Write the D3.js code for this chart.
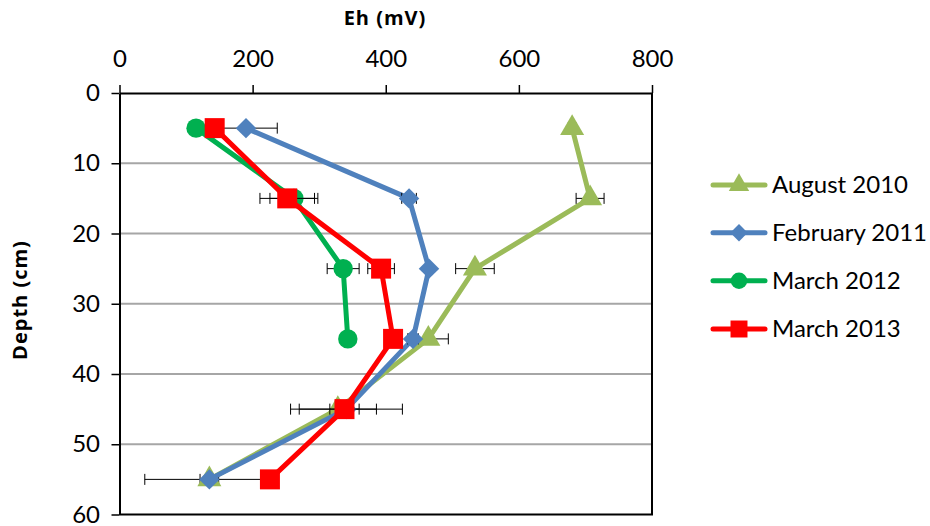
<!DOCTYPE html>
<html>
<head>
<meta charset="utf-8">
<script src="https://cdn.jsdelivr.net/npm/d3@7"></script>
<style>
  html, body { margin: 0; padding: 0; background: #fff; }
  svg { display: block; font-family: Lato, "Open Sans", sans-serif; }
</style>
</head>
<body>
<svg id="chart" width="930" height="526"></svg>
<script>
// Sampling depths (cm)
const depths = [5, 15, 25, 35, 45, 55];
const xTicks = [0, 200, 400, 600, 800];
const yTicks = [0, 10, 20, 30, 40, 50, 60];

// Eh readings (mV) per campaign, with error half-widths
const aug2010 = [680, 707, 534, 464, 328, 135];
const aug2010Err = [6, 21, 29, 30, 58, 14];
const feb2011 = [190, 435, 465, 441, 341, 135];
const feb2011Err = [47, 11, 4, 8, 84, 97];
const mar2012 = [115, 262, 336, 343];
const mar2012Err = [0, 36, 24, 0];
const mar2013 = [143, 252, 393, 411, 338, 226];
const mar2013Err = [0, 41, 20, 0, 22, 0];

const seriesNames = ["August 2010", "February 2011", "March 2012", "March 2013"];
const seriesColors = ["#9BBB59", "#4F81BD", "#00B050", "#FF0000"];

// Diamond drawn as a square turned 45 degrees
const squareDiamond = {
  draw(context, size) {
    const r = Math.sqrt(size / 2);
    context.moveTo(0, -r);
    context.lineTo(r, 0);
    context.lineTo(0, r);
    context.lineTo(-r, 0);
    context.closePath();
  }
};
const seriesSymbols = [d3.symbolTriangle, squareDiamond, d3.symbolCircle, d3.symbolSquare];
const seriesSizes = [250, 210, 295, 400];

const seriesValues = [aug2010, feb2011, mar2012, mar2013];
const seriesErrors = [aug2010Err, feb2011Err, mar2012Err, mar2013Err];

const series = seriesNames.map((name, i) => ({
  name,
  color: seriesColors[i],
  symbol: seriesSymbols[i],
  size: seriesSizes[i],
  points: seriesValues[i].map((v, j) => ({ eh: v, depth: depths[j], err: seriesErrors[i][j] }))
}));

const svg = d3.select("#chart");
const plotLeft = 119.5, plotRight = 652, plotTop = 93, plotBottom = 514.5;

const x = d3.scaleLinear().domain([0, 800]).range([plotLeft, plotRight]);
const y = d3.scaleLinear().domain([0, 60]).range([plotTop, plotBottom]);

// Horizontal gridlines
svg.append("g")
  .selectAll("line")
  .data(yTicks.filter(t => t > 0 && t < 60))
  .join("line")
  .attr("x1", plotLeft).attr("x2", plotRight)
  .attr("y1", d => y(d)).attr("y2", d => y(d))
  .attr("stroke", "#a6a6a6").attr("stroke-width", 2);

// Plot frame (right and bottom edges)
svg.append("path")
  .attr("d", `M${plotRight},${plotTop} V${plotBottom} H${plotLeft}`)
  .attr("fill", "none").attr("stroke", "#000").attr("stroke-width", 2);

// Top axis
const xAxis = svg.append("g")
  .attr("transform", `translate(0,${plotTop})`)
  .call(d3.axisTop(x).tickValues(xTicks).tickSize(8).tickPadding(18).tickSizeOuter(0));
xAxis.select(".domain").attr("stroke", "#000").attr("stroke-width", 2);
xAxis.selectAll(".tick line").attr("stroke", "#000").attr("stroke-width", 1.5);
xAxis.selectAll(".tick text").attr("font-size", 24).attr("fill", "#000")
  .attr("font-family", "Lato, sans-serif");

// Left axis
const yAxis = svg.append("g")
  .attr("transform", `translate(${plotLeft},0)`)
  .call(d3.axisLeft(y).tickValues(yTicks).tickSize(8).tickPadding(11.5).tickSizeOuter(0));
yAxis.select(".domain").attr("stroke", "#000").attr("stroke-width", 2);
yAxis.selectAll(".tick line").attr("stroke", "#000").attr("stroke-width", 1.5);
yAxis.selectAll(".tick text").attr("font-size", 24).attr("fill", "#000")
  .attr("font-family", "Lato, sans-serif");

// Axis titles
svg.append("text")
  .attr("x", 385).attr("y", 25)
  .attr("text-anchor", "middle")
  .attr("font-family", "'Open Sans', sans-serif")
  .attr("font-size", 20).attr("font-weight", "bold")
  .attr("letter-spacing", 1)
  .text("Eh (mV)");

svg.append("text")
  .attr("transform", "translate(27,300) rotate(-90)")
  .attr("text-anchor", "middle")
  .attr("font-family", "'Open Sans', sans-serif")
  .attr("font-size", 20).attr("font-weight", "bold")
  .attr("letter-spacing", 1)
  .text("Depth (cm)");

const line = d3.line().x(d => x(d.eh)).y(d => y(d.depth));
const plot = svg.append("g");

series.forEach(s => {
  const g = plot.append("g");
  g.append("path")
    .datum(s.points)
    .attr("d", line)
    .attr("fill", "none")
    .attr("stroke", s.color)
    .attr("stroke-width", 5)
    .attr("stroke-linejoin", "round")
    .attr("stroke-linecap", "round");

  // Horizontal error bars
  const eb = g.append("g").selectAll("g")
    .data(s.points.filter(p => p.err > 0))
    .join("g")
    .attr("stroke", "#000").attr("stroke-width", 1);
  eb.append("line")
    .attr("x1", p => x(p.eh - p.err)).attr("x2", p => x(p.eh + p.err))
    .attr("y1", p => y(p.depth)).attr("y2", p => y(p.depth));
  eb.append("line")
    .attr("x1", p => x(p.eh - p.err)).attr("x2", p => x(p.eh - p.err))
    .attr("y1", p => y(p.depth) - 5.5).attr("y2", p => y(p.depth) + 5.5);
  eb.append("line")
    .attr("x1", p => x(p.eh + p.err)).attr("x2", p => x(p.eh + p.err))
    .attr("y1", p => y(p.depth) - 5.5).attr("y2", p => y(p.depth) + 5.5);

  g.append("g").selectAll("path")
    .data(s.points)
    .join("path")
    .attr("transform", p => `translate(${x(p.eh)},${y(p.depth)})`)
    .attr("d", d3.symbol().type(s.symbol).size(s.size))
    .attr("fill", s.color);
});

// Legend
const legend = svg.append("g");
const legendY = [185, 232.7, 280.7, 329];
series.forEach((s, i) => {
  const g = legend.append("g").attr("transform", `translate(0,${legendY[i]})`);
  g.append("line")
    .attr("x1", 713).attr("x2", 765).attr("y1", 0).attr("y2", 0)
    .attr("stroke", s.color).attr("stroke-width", 5).attr("stroke-linecap", "round");
  g.append("path")
    .attr("transform", "translate(739,0)")
    .attr("d", d3.symbol().type(s.symbol).size(s.size * 0.72))
    .attr("fill", s.color);
  g.append("text")
    .attr("x", 772).attr("y", 8)
    .attr("font-size", 24).attr("fill", "#000")
    .text(s.name);
});
</script>
</body>
</html>
